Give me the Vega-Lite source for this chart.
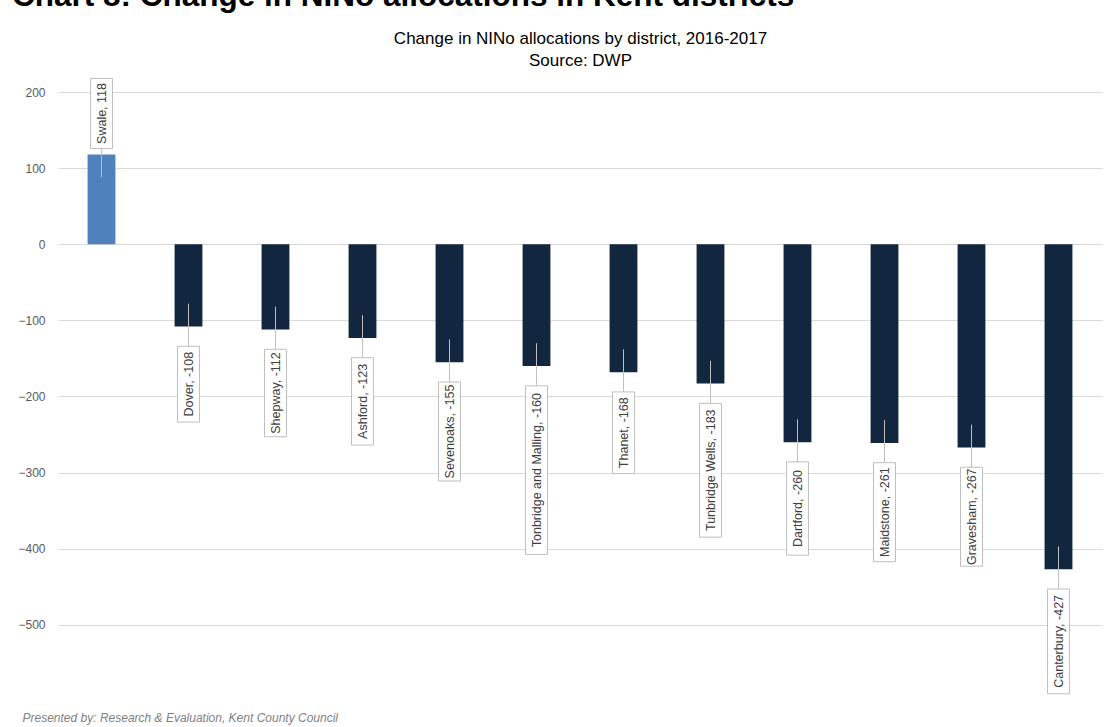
{
  "$schema": "https://vega.github.io/schema/vega-lite/v6.json",
  "width": 1044,
  "height": 617,
  "autosize": {"type": "none"},
  "padding": {"left": 58, "top": 80, "right": 3, "bottom": 30},
  "background": "white",
  "title": {
    "text": "Chart 8: Change in NINo allocations in Kent districts",
    "anchor": "start",
    "frame": "group",
    "font": "Liberation Sans",
    "fontSize": 31.5,
    "fontWeight": "bold",
    "color": "#000000",
    "baseline": "alphabetic",
    "dx": -46,
    "offset": 0,
    "dy": 8
  },
  "data": {
    "values": [
      {"district": "Swale", "value": 118},
      {"district": "Dover", "value": -108},
      {"district": "Shepway", "value": -112},
      {"district": "Ashford", "value": -123},
      {"district": "Sevenoaks", "value": -155},
      {"district": "Tonbridge and Malling", "value": -160},
      {"district": "Thanet", "value": -168},
      {"district": "Tunbridge Wells", "value": -183},
      {"district": "Dartford", "value": -260},
      {"district": "Maidstone", "value": -261},
      {"district": "Gravesham", "value": -267},
      {"district": "Canterbury", "value": -427}
    ]
  },
  "transform": [
    {"calculate": "datum.district + ', ' + datum.value", "as": "label"},
    {"calculate": "(5.8 * length(datum.label) + 12) * 1.3144", "as": "boxLen"},
    {"calculate": "datum.value < 0 ? datum.value - 26 : datum.value + 8 + datum.boxLen", "as": "boxTop"},
    {"calculate": "datum.boxTop - datum.boxLen", "as": "boxBot"},
    {"calculate": "datum.value < 0 ? datum.value + 30 : datum.value - 30", "as": "lead1"},
    {"calculate": "datum.value < 0 ? datum.boxTop : datum.boxBot", "as": "lead2"},
    {"calculate": "(datum.boxTop + datum.boxBot) / 2", "as": "mid"}
  ],
  "encoding": {
    "x": {
      "field": "district",
      "type": "nominal",
      "sort": null,
      "scale": {"paddingInner": 0.68, "paddingOuter": 0.34}
    }
  },
  "layer": [
    {
      "mark": {"type": "bar"},
      "encoding": {
        "x": {
          "field": "district",
          "type": "nominal",
          "sort": null,
          "axis": {
            "orient": "top",
            "labels": false,
            "ticks": false,
            "domain": false,
            "grid": false,
            "title": ["Change in NINo allocations by district, 2016-2017", "Source: DWP"],
            "titleFont": "Liberation Sans",
            "titleFontSize": 17,
            "titleFontWeight": "normal",
            "titleColor": "#000000",
            "titleLineHeight": 22,
            "titlePadding": 11
          }
        },
        "y": {
          "field": "value",
          "type": "quantitative",
          "title": null,
          "scale": {"domain": [-595, 216], "nice": false, "zero": false},
          "axis": {
            "values": [-500, -400, -300, -200, -100, 0, 100, 200],
            "domain": false,
            "ticks": false,
            "labelFont": "Liberation Sans",
            "labelFontSize": 12,
            "labelColor": "#595959",
            "labelPadding": 13,
            "gridColor": "#D9D9D9",
            "gridWidth": 1
          }
        },
        "color": {
          "condition": {"test": "datum.value > 0", "value": "#4F81BD"},
          "value": "#13263F"
        }
      }
    },
    {
      "mark": {"type": "rule", "color": "#BFBFBF", "strokeWidth": 1},
      "encoding": {
        "x": {"field": "district", "type": "nominal", "sort": null, "axis": null},
        "y": {"field": "lead1", "type": "quantitative", "title": null},
        "y2": {"field": "lead2"}
      }
    },
    {
      "mark": {"type": "bar", "width": 22, "fill": "white", "stroke": "#BFBFBF", "strokeWidth": 1},
      "encoding": {
        "x": {"field": "district", "type": "nominal", "sort": null, "axis": null},
        "y": {"field": "boxTop", "type": "quantitative", "title": null},
        "y2": {"field": "boxBot"}
      }
    },
    {
      "mark": {
        "type": "text",
        "angle": 270,
        "align": "center",
        "baseline": "middle",
        "font": "Liberation Sans",
        "fontSize": 12.5,
        "color": "#404040"
      },
      "encoding": {
        "x": {
          "field": "district",
          "type": "nominal",
          "sort": null,
          "axis": {
            "orient": "bottom",
            "labels": false,
            "ticks": false,
            "domain": false,
            "grid": false,
            "title": "Presented by:  Research & Evaluation,  Kent County Council",
            "titleFont": "Liberation Sans",
            "titleFontSize": 12,
            "titleFontStyle": "italic",
            "titleFontWeight": "normal",
            "titleColor": "#7F7F7F",
            "titleAnchor": "start",
            "titleAlign": "left",
            "titleX": -36,
            "titlePadding": 15
          }
        },
        "y": {"field": "mid", "type": "quantitative", "title": null},
        "text": {"field": "label"}
      }
    }
  ],
  "resolve": {"axis": {"x": "independent"}},
  "config": {
    "view": {"stroke": null}
  }
}
